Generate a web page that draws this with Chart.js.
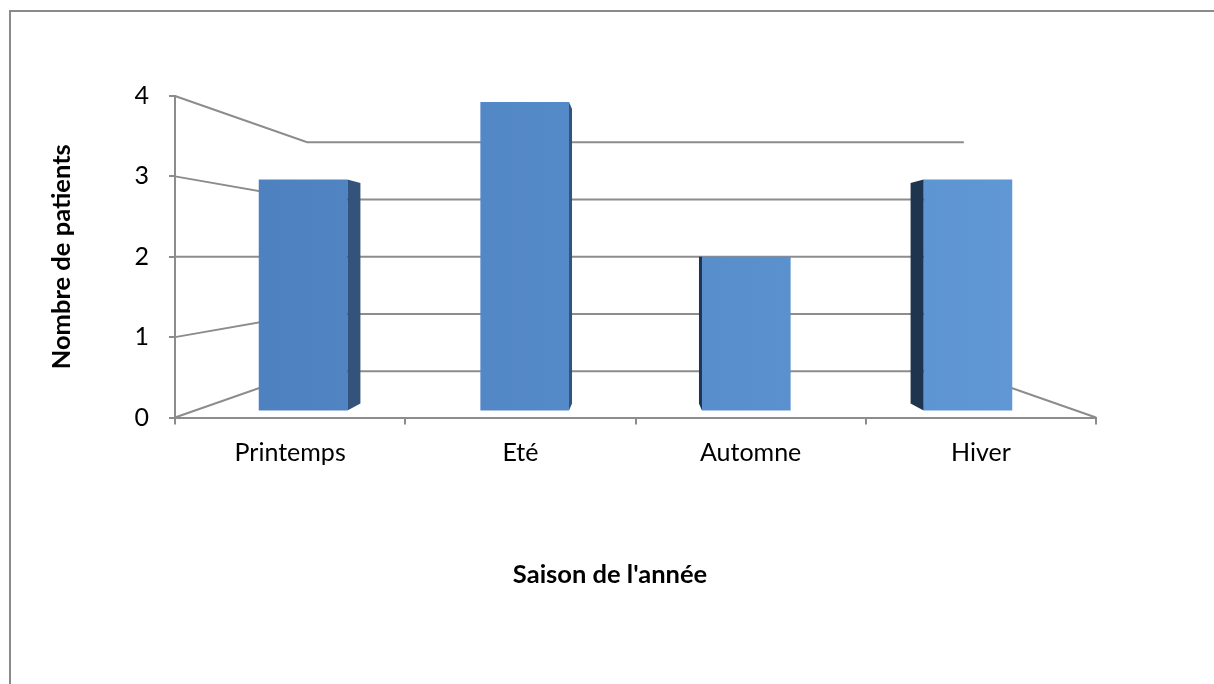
<!DOCTYPE html>
<html>
<head>
<meta charset="utf-8">
<script src="https://cdn.jsdelivr.net/npm/chart.js@4"></script>
<style>
  html, body { margin: 0; padding: 0; background: #fff; }
  #wrap { position: relative; width: 1214px; height: 684px; overflow: hidden; }
  #frame { position: absolute; left: 9px; top: 10px; width: 1400px; height: 900px;
           border-left: 2px solid #8a8a8a; border-top: 2px solid #8a8a8a; }
  canvas { position: absolute; left: 0; top: 0; }
</style>
</head>
<body>
<div id="wrap">
  <div id="frame"></div>
  <canvas id="c" width="1214" height="684"></canvas>
</div>
<script>
// ---- data ----
const categories = ['Printemps', 'Eté', 'Automne', 'Hiver'];
const patients = [3, 4, 2, 3];
const yTitle = 'Nombre de patients';
const xTitle = "Saison de l'année";

// ---- perspective constants (decoration) ----
const K_WALL = 0.713;   // back wall scale
const K_BAR = 0.9625;   // bar front face depth
const K_BACK = 0.919;   // bar back face depth
const GRID = '#8c8c8c';
const FONT = 'Lato, "Noto Sans", sans-serif';

function vanish(chart) {
  const a = chart.chartArea, y = chart.scales.y;
  return { vx: (a.left + a.right) / 2, vy: y.getPixelForValue((y.min + y.max) / 2) };
}

const perspective = {
  id: 'perspective',
  beforeDatasetsDraw(chart) {
    const { ctx, chartArea: a, scales: { y } } = chart;
    const { vx, vy } = vanish(chart);
    ctx.save();
    ctx.strokeStyle = GRID;
    ctx.lineWidth = 2;
    y.ticks.forEach(t => {
      const fy = y.getPixelForValue(t.value);
      const by = vy + (fy - vy) * K_WALL;
      const bl = vx + (a.left - vx) * K_WALL;
      const br = vx + (a.right - vx) * K_WALL;
      ctx.beginPath();
      ctx.moveTo(a.left, fy);
      ctx.lineTo(bl, by);
      ctx.lineTo(br, by);
      if (t.value === y.min) ctx.lineTo(a.right, fy);
      ctx.stroke();
    });
    ctx.restore();
    ctx.save();
    ctx.translate(vx, vy);
    ctx.scale(K_BAR, K_BAR);
    ctx.translate(-vx, -vy);
  },
  afterDatasetsDraw(chart) {
    const { ctx } = chart;
    ctx.restore();
    const { vx, vy } = vanish(chart);
    const P = (px, py, k) => [vx + (px - vx) * k, vy + (py - vy) * k];
    chart.getDatasetMeta(0).data.forEach(bar => {
      const { x, y, base, width } = bar.getProps(['x', 'y', 'base', 'width'], true);
      const leftSide = x > vx;
      const edge = leftSide ? x - width / 2 : x + width / 2;
      const pts = [P(edge, y, K_BAR), P(edge, base, K_BAR), P(edge, base, K_BACK), P(edge, y, K_BACK)];
      ctx.save();
      ctx.fillStyle = leftSide ? '#1f344e' : '#33537b';
      ctx.beginPath();
      ctx.moveTo(pts[0][0], pts[0][1]);
      for (let i = 1; i < pts.length; i++) ctx.lineTo(pts[i][0], pts[i][1]);
      ctx.closePath();
      ctx.fill();
      ctx.restore();
    });
  }
};

new Chart(document.getElementById('c'), {
  type: 'bar',
  data: {
    labels: categories,
    datasets: [{
      data: patients,
      backgroundColor(ctx) {
        const a = ctx.chart.chartArea;
        if (!a) return '#5285c2';
        const g = ctx.chart.ctx.createLinearGradient(a.left, 0, a.right, 0);
        g.addColorStop(0, '#4c7fbe');
        g.addColorStop(1, '#6199d6');
        return g;
      },
      borderWidth: 0,
      barPercentage: 0.4,
      categoryPercentage: 1
    }]
  },
  options: {
    responsive: false,
    animation: false,
    devicePixelRatio: 1,
    layout: { padding: { top: 96, right: 0, left: 6, bottom: 0 } },
    plugins: {
      legend: { display: false },
      tooltip: { enabled: false },
      title: {
        display: true, position: 'bottom', text: xTitle, color: '#000',
        font: { family: FONT, size: 25.5, weight: 'bold', lineHeight: 1 },
        padding: { top: 0, bottom: 96 }
      }
    },
    scales: {
      x: {
        grid: { offset: true, drawOnChartArea: false, drawTicks: true, tickLength: 7, color: GRID, lineWidth: 2 },
        border: { color: GRID, width: 2 },
        ticks: { color: '#000', font: { family: FONT, size: 25 }, padding: 13 },
        afterFit(s) { s.height = 684 - 417 - 122; }
      },
      y: {
        min: 0, max: 4,
        grid: { drawOnChartArea: false, drawTicks: true, tickLength: 6, color: GRID, lineWidth: 2 },
        border: { color: GRID, width: 2 },
        ticks: { stepSize: 1, color: '#000', font: { family: FONT, size: 25 }, padding: 20 },
        title: { display: true, text: yTitle, color: '#000', font: { family: FONT, size: 25.5, weight: 'bold', lineHeight: 1 }, padding: { top: 43, bottom: 0 } },
        afterFit(s) { s.width = 169; }
      },
      yRight: {
        type: 'linear', position: 'right', display: true,
        grid: { display: false }, border: { display: false }, ticks: { display: false },
        afterFit(s) { s.width = 118; }
      }
    }
  },
  plugins: [perspective]
});
</script>
</body>
</html>
